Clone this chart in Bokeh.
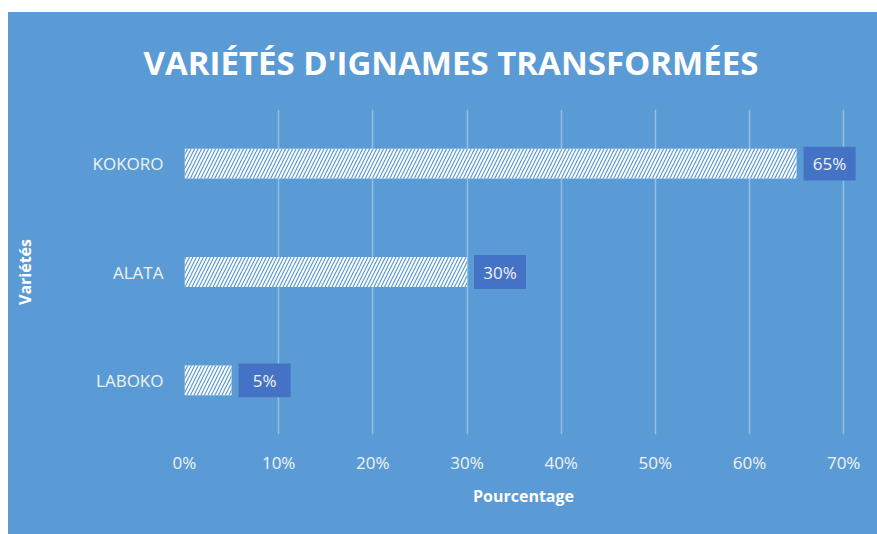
from bokeh.plotting import figure
from bokeh.models import FactorRange, Range1d, FixedTicker, NumeralTickFormatter, ColumnDataSource, Spacer
from bokeh.layouts import column, row
from bokeh.embed import file_html
from bokeh.resources import INLINE
from bokeh.core.properties import value

categories = ["KOKORO", "ALATA", "LABOKO"]
percentages = [0.65, 0.30, 0.05]
x_ticks = [0.0, 0.1, 0.2, 0.3, 0.4, 0.5, 0.6, 0.7]
title_text = "VARIÉTÉS D'IGNAMES TRANSFORMÉES"
x_label = "Pourcentage"
y_label = "Variétés"

BG = "#5B9BD5"
BOX = "#4472C4"
FONT = "Open Sans"

W, H = 869, 522
X_END = 0.72
LEFT, TOP, BOTTOM = 176, 95, 100
px_per_unit = 659 / 0.7
RIGHT = W - LEFT - round(X_END * px_per_unit)
gap = 7 / px_per_unit
box_w = 52 / px_per_unit

labels = [f"{round(v * 100)}%" for v in percentages]
src = ColumnDataSource(dict(
    cat=categories, val=percentages, lab=labels,
    bl=[v + gap for v in percentages],
    br=[v + gap + box_w for v in percentages],
    bc=[v + gap + box_w / 2 for v in percentages],
))

p = figure(width=W, height=H, output_backend="svg", toolbar_location=None,
           y_range=FactorRange(factors=categories[::-1], range_padding=0),
           x_range=Range1d(0, X_END),
           min_border_left=LEFT, min_border_right=RIGHT,
           min_border_top=TOP, min_border_bottom=BOTTOM,
           background_fill_color=BG, border_fill_color=BG)
p.styles = {"background-color": BG}
p.outline_line_color = None

p.title.text = title_text
p.title.align = "left"
p.title.text_color = "white"
p.title.text_font = FONT
p.title.text_font_style = "bold"
p.title.text_font_size = "33px"
p.title.offset = -41
p.title.standoff = 50

p.hbar(y="cat", right="val", left=0, height=0.275, source=src,
       fill_color="white", line_color=None,
       hatch_pattern="/", hatch_color=BG, hatch_scale=7, hatch_weight=1.2)

p.hbar(y="cat", left="bl", right="br", height=0.312, source=src,
       fill_color=BOX, line_color=None)
p.text(x="bc", y="cat", text="lab", source=src, text_align="center",
       text_baseline="middle", text_color="#F2F2F2",
       text_font=value(FONT), text_font_size="17px")

p.xaxis.ticker = FixedTicker(ticks=x_ticks)
p.xaxis.formatter = NumeralTickFormatter(format="0%")
for ax in (p.xaxis[0], p.yaxis[0]):
    ax.axis_line_color = None
    ax.major_tick_line_color = None
    ax.minor_tick_line_color = None
    ax.major_label_text_color = "#F2F2F2"
    ax.major_label_text_font = FONT
    ax.axis_label_text_color = "white"
    ax.axis_label_text_font = FONT
    ax.axis_label_text_font_style = "bold"
    ax.axis_label_text_font_size = "16px"

p.xaxis.major_label_text_font_size = "17px"
p.xaxis.major_label_standoff = 10
p.xaxis.axis_label = x_label
p.xaxis.axis_label_standoff = 8

p.yaxis.major_label_text_font_size = "17px"
p.yaxis.major_label_standoff = 15
p.yaxis.axis_label = y_label
p.yaxis.axis_label_standoff = 54

p.xgrid.grid_line_color = "white"
p.xgrid.grid_line_alpha = 0.35
p.xgrid.grid_line_width = 1.5
p.ygrid.grid_line_color = None

layout = row(Spacer(width=8, height=H + 12), column(Spacer(height=12, width=W), p, spacing=0), spacing=0)
open("out.html", "w").write(file_html(layout, INLINE))
